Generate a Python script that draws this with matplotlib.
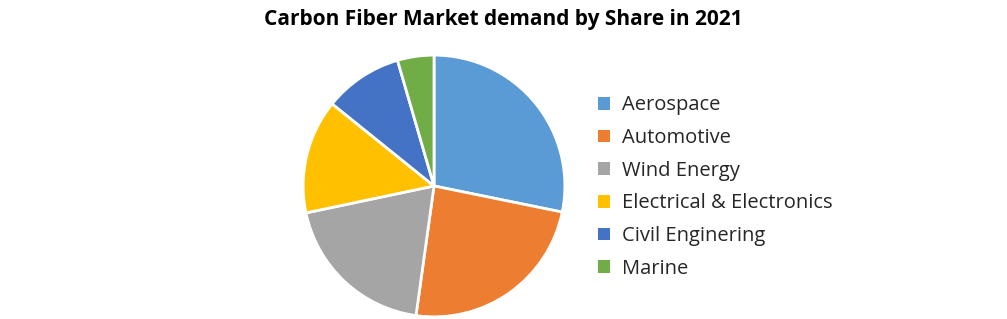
import matplotlib.pyplot as plt

# Data
labels = ["Aerospace", "Automotive", "Wind Energy", "Electrical & Electronics",
          "Civil Enginering", "Marine"]
shares = [28.2, 24.0, 19.5, 14.1, 9.7, 4.5]
colors = ["#5b9bd5", "#ed7d31", "#a5a5a5", "#ffc000", "#4472c4", "#70ad47"]

fig = plt.figure(figsize=(10.07, 3.19), dpi=100)
ax = fig.add_axes([0.431 - 0.1306, 0.417 - 0.4125, 0.2612, 0.825])

wedges, _ = ax.pie(shares, colors=colors, startangle=90, counterclock=False,
                   wedgeprops=dict(edgecolor="white", linewidth=2))
ax.set_xlim(-1.005, 1.005)
ax.set_ylim(-1.005, 1.005)
ax.set_aspect("equal")

fig.text(0.5, 0.94, "Carbon Fiber Market demand by Share in 2021",
         ha="center", va="center", fontsize=15, fontweight="bold",
         family="Open Sans")

leg = fig.legend(wedges, labels, loc="upper left", bbox_to_anchor=(0.5755, 0.758),
                 frameon=False, handlelength=0.6, handleheight=0.6,
                 handletextpad=0.6, labelspacing=0.63,
                 prop={"family": "Open Sans", "size": 14.5})
for h in leg.legend_handles:
    h.set_edgecolor("none")
for t in leg.get_texts():
    t.set_color("#262626")

fig.savefig("out.png", dpi=100)
